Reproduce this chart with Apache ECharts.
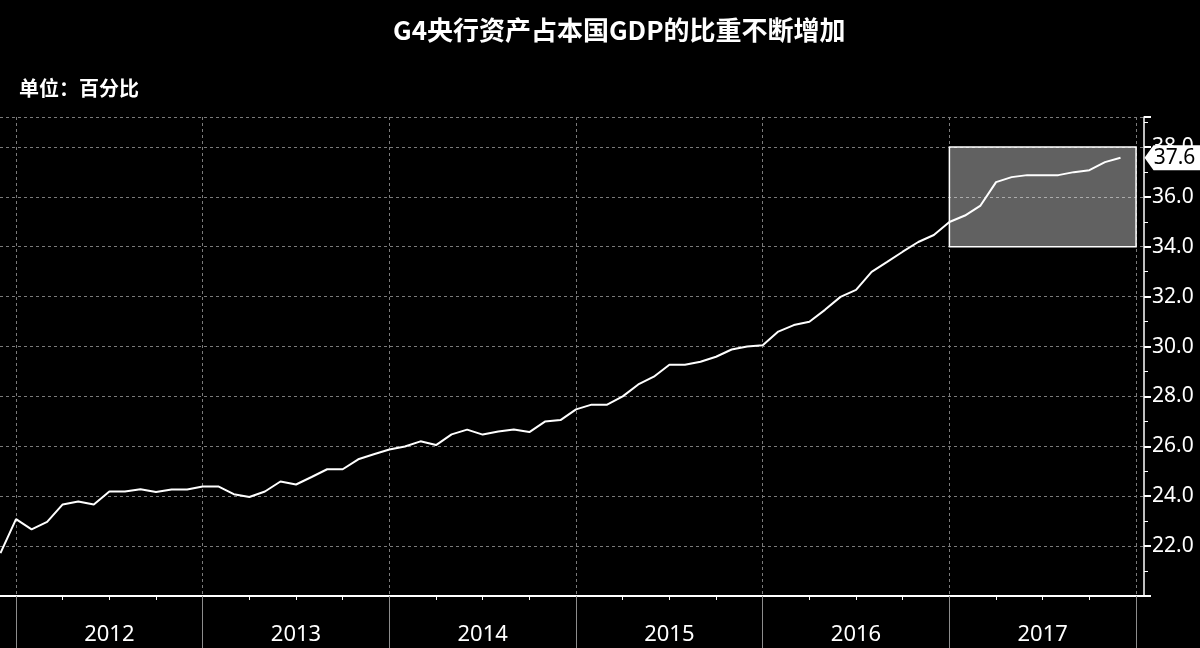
<!DOCTYPE html>
<html>
<head>
<meta charset="utf-8">
<script src="https://cdn.jsdelivr.net/npm/echarts@6/dist/echarts.min.js"></script>
<style>
  html, body { margin: 0; padding: 0; background: #000; }
  #chart { width: 1200px; height: 648px; }
</style>
</head>
<body>
<div id="chart"></div>
<script>
// monthly readings, first point = Nov 2011, last = Nov 2017
const firstMonthOffset = -1; // months relative to Dec 2011
const years = ['2012', '2013', '2014', '2015', '2016', '2017'];
const shareOfGdp = [
  21.72, 23.08, 22.67, 22.97, 23.67, 23.79, 23.67, 24.19, 24.19, 24.28, 24.17, 24.27, 24.27,
  24.39, 24.39, 24.08, 23.97, 24.19, 24.59, 24.47, 24.77, 25.08, 25.08, 25.48, 25.68,
  25.87, 25.99, 26.2, 26.05, 26.48, 26.67, 26.47, 26.59, 26.67, 26.57, 26.99, 27.05,
  27.48, 27.67, 27.67, 28.0, 28.48, 28.79, 29.27, 29.27, 29.39, 29.59, 29.88, 30.0,
  30.05, 30.6, 30.86, 30.99, 31.47, 31.99, 32.27, 32.99, 33.39, 33.8, 34.19, 34.47,
  34.99, 35.25, 35.65, 36.59, 36.79, 36.87, 36.87, 36.87, 36.99, 37.07, 37.39, 37.57
];
const lastLabel = '37.6';
const highlightBox = { fromMonth: 60, toMonth: 72, low: 34, high: 38 };

const lineData = shareOfGdp.map((v, i) => [i + firstMonthOffset, v]);
const last = lineData[lineData.length - 1];

const quarterTicks = [];
for (let m = 3; m < 72; m += 3) quarterTicks.push(m);

const chart = echarts.init(document.getElementById('chart'));

const option = {
  backgroundColor: '#000',
  animation: false,
  title: [
    {
      text: 'G4央行资产占本国GDP的比重不断增加',
      left: 388,
      top: 12,
      textStyle: { color: '#fff', fontSize: 26, fontWeight: 'bold', fontFamily: 'Noto Sans CJK SC' }
    },
    {
      text: '单位：百分比',
      left: 14,
      top: 73,
      textStyle: { color: '#fff', fontSize: 20, fontWeight: 'bold', fontFamily: 'Noto Sans CJK SC' }
    }
  ],
  grid: [
    { left: 0, right: 56, top: 117, bottom: 52 },
    { left: 16, right: 64, top: 117, bottom: 52 }
  ],
  xAxis: [
    {
      type: 'value',
      gridIndex: 0,
      min: -1.03,
      max: 72.51,
      axisLine: { show: true, onZero: false, lineStyle: { color: '#fff', width: 2 } },
      axisTick: { show: true, customValues: quarterTicks, length: 4, lineStyle: { color: '#fff', width: 1 } },
      axisLabel: { show: false },
      splitLine: { show: false }
    },
    {
      type: 'category',
      gridIndex: 1,
      data: years,
      boundaryGap: true,
      axisLine: { show: false },
      axisTick: { show: true, interval: 0, length: 54, lineStyle: { color: '#8c8c8c', width: 1 } },
      axisLabel: { color: '#fff', fontSize: 22, margin: 28, fontFamily: 'Noto Sans' },
      splitLine: { show: true, interval: 0, lineStyle: { color: '#7a7a7a', type: [3, 3], width: 1 } }
    }
  ],
  yAxis: [
    {
      type: 'value',
      gridIndex: 0,
      position: 'right',
      min: 20,
      max: 39.2,
      interval: 2,
      axisLine: { show: true, onZero: false, lineStyle: { color: '#fff', width: 1.5 } },
      axisTick: { show: true, length: 7, lineStyle: { color: '#fff', width: 2 } },
      minorTick: { show: true, splitNumber: 2, length: 4, lineStyle: { color: '#fff', width: 1 } },
      axisLabel: {
        color: '#fff', fontSize: 21, margin: 8, fontFamily: 'Noto Sans',
        showMinLabel: false,
        showMaxLabel: false,
        formatter: v => v.toFixed(1)
      },
      splitLine: { show: true, lineStyle: { color: '#7a7a7a', type: [3, 3], width: 1 } }
    },
    {
      type: 'value',
      gridIndex: 1,
      show: false,
      axisLine: { show: false, onZero: false },
      splitLine: { show: false }
    }
  ],
  series: [
    {
      type: 'line',
      xAxisIndex: 0,
      yAxisIndex: 0,
      data: lineData,
      showSymbol: false,
      lineStyle: { color: '#fff', width: 2 },
      z: 5,
      markArea: {
        silent: true,
        itemStyle: { color: 'rgba(255,255,255,0.38)', borderColor: '#fff', borderWidth: 1.5 },
        data: [[
          { xAxis: highlightBox.fromMonth, yAxis: highlightBox.low },
          { xAxis: highlightBox.toMonth, yAxis: highlightBox.high }
        ]]
      },
      markPoint: {
        silent: true,
        symbol: 'path://M0,12 L9,0 L58,0 L58,24 L9,24 Z',
        symbolSize: [58, 25],
        symbolOffset: [53, 0],
        itemStyle: { color: '#fff' },
        label: {
          show: true,
          position: 'inside',
          color: '#000',
          fontSize: 21,
          fontFamily: 'Noto Sans',
          offset: [1, 0],
          formatter: () => lastLabel
        },
        data: [{ coord: last, value: last[1] }]
      }
    }
  ]
};

chart.setOption(option);
</script>
</body>
</html>
